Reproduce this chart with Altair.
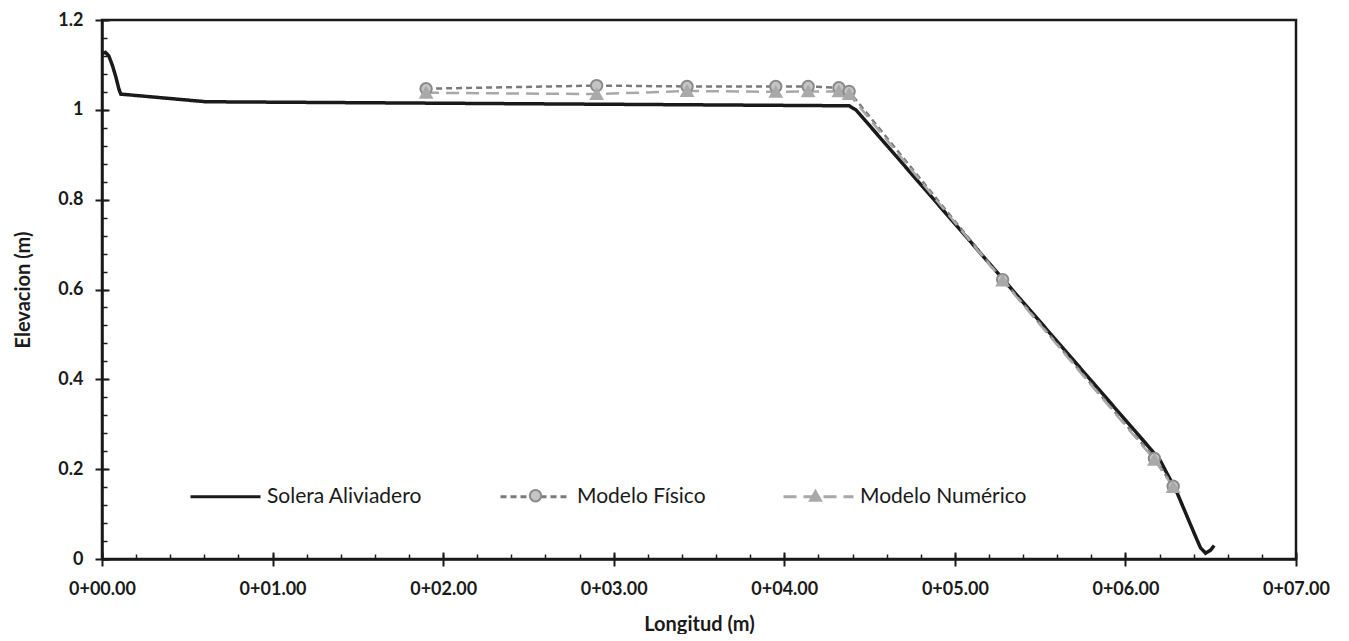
import altair as alt
import pandas as pd

# ---- data ----
solera_x = [0.00, 0.02, 0.04, 0.06, 0.08, 0.10, 0.11, 0.61, 4.38, 4.42, 6.20, 6.30, 6.40, 6.44, 6.47, 6.50, 6.52]
solera_y = [1.125, 1.128, 1.120, 1.100, 1.075, 1.045, 1.035, 1.018, 1.009, 1.000, 0.222, 0.150, 0.060, 0.025, 0.013, 0.020, 0.030]

fisico_x = [1.90, 2.90, 3.43, 3.95, 4.14, 4.32, 4.38, 5.28, 6.17, 6.28]
fisico_y = [1.047, 1.054, 1.052, 1.052, 1.052, 1.049, 1.041, 0.622, 0.224, 0.162]

numerico_x = [1.90, 2.90, 3.43, 3.95, 4.14, 4.32, 4.38, 5.28, 6.17, 6.28]
numerico_y = [1.038, 1.035, 1.042, 1.040, 1.041, 1.041, 1.035, 0.620, 0.221, 0.160]

series = ["Solera Aliviadero", "Modelo Físico", "Modelo Numérico"]
colors = ["#1a1a1a", "#7a7a7a", "#a8a8a8"]
dashes = [[1, 0], [6, 4], [13, 7]]
mk_series = ["Modelo Físico", "Modelo Numérico"]
mk_shapes = ["circle", "triangle-up"]
mk_fill = ["#c4c4c4", "#a9a9a9"]
mk_stroke = ["#8a8a8a", "#a9a9a9"]

x_major = [0, 1, 2, 3, 4, 5, 6, 7]
x_minor = [round(i * 0.2, 2) for i in range(36)]
y_major = [0, 0.2, 0.4, 0.6, 0.8, 1.0, 1.2]
y_minor = [round(i * 0.04, 2) for i in range(31)]

sol = pd.DataFrame({"x": solera_x, "y": solera_y, "serie": series[0], "o": range(len(solera_x))})
fis = pd.DataFrame({"x": fisico_x, "y": fisico_y, "serie": series[1], "o": range(len(fisico_x))})
num = pd.DataFrame({"x": numerico_x, "y": numerico_y, "serie": series[2], "o": range(len(numerico_x))})
mod = pd.concat([fis, num], ignore_index=True)

FONT = "Lato"
INK = "#1a1a1a"
xs = alt.Scale(domain=[0, 7], nice=False, zero=False)
ys = alt.Scale(domain=[0, 1.2], nice=False)
col = alt.Color("serie:N", scale=alt.Scale(domain=series, range=colors),
                legend=alt.Legend(title=None))
dash = alt.StrokeDash("serie:N", scale=alt.Scale(domain=series, range=dashes),
                      legend=alt.Legend(title=None))

main_x = alt.Axis(values=x_major, labelExpr="'0+0' + format(datum.value, '.2f')",
                  orient="bottom", tickSize=7, tickWidth=2, tickColor=INK,
                  domainColor=INK, domainWidth=2.5, grid=False, labelFlush=False,
                  labelFont=FONT, labelFontWeight="bold", labelFontSize=18, labelColor=INK,
                  labelPadding=14, title="Longitud (m)", titleFont=FONT, titleFontSize=20,
                  titleFontWeight="bold", titleColor=INK, titlePadding=16)
main_y = alt.Axis(values=y_major, labelExpr="format(datum.value, '~g')",
                  orient="left", tickSize=7, tickWidth=2, tickColor=INK,
                  domainColor=INK, domainWidth=2.5, grid=False, labelFlush=False,
                  labelFont=FONT, labelFontWeight="bold", labelFontSize=18, labelColor=INK,
                  labelPadding=12, title="Elevacion (m)", titleFont=FONT, titleFontSize=20,
                  titleFontWeight="bold", titleColor=INK, titlePadding=24)

in_x = alt.Axis(values=x_major, orient="bottom", offset=-7, tickSize=7, tickWidth=2,
                tickColor=INK, domain=False, labels=False, grid=False, title=None)
in_y = alt.Axis(values=y_major, orient="left", offset=-7, tickSize=7, tickWidth=2,
                tickColor=INK, domain=False, labels=False, grid=False, title=None)
mi_x = alt.Axis(values=x_minor, orient="bottom", offset=-5, tickSize=5, tickWidth=1.5,
                tickColor=INK, domain=False, labels=False, grid=False, title=None)
mi_y = alt.Axis(values=y_minor, orient="left", offset=-5, tickSize=5, tickWidth=1.5,
                tickColor=INK, domain=False, labels=False, grid=False, title=None)

l_sol = alt.Chart(sol).mark_line(strokeWidth=3.5).encode(
    x=alt.X("x:Q", scale=xs, axis=main_x),
    y=alt.Y("y:Q", scale=ys, axis=main_y),
    color=col, strokeDash=dash, order="o:Q",
)
l_mod = alt.Chart(mod).mark_line(strokeWidth=2.5).encode(
    x=alt.X("x:Q", scale=xs, axis=in_x),
    y=alt.Y("y:Q", scale=ys, axis=in_y),
    color=col, strokeDash=dash, order="o:Q",
)

mk_legend = alt.Legend(title=None, orient="none", legendX=423, legendY=465,
                       direction="horizontal", symbolSize=130, symbolStrokeWidth=2,
                       labelExpr="''", labelOffset=0, columnPadding=259)
p_mod = alt.Chart(mod).mark_point(size=130, strokeWidth=2, opacity=1, fillOpacity=1).encode(
    x=alt.X("x:Q", scale=xs, axis=mi_x),
    y=alt.Y("y:Q", scale=ys, axis=mi_y),
    shape=alt.Shape("serie:N", scale=alt.Scale(domain=mk_series, range=mk_shapes), legend=mk_legend),
    fill=alt.Fill("serie:N", scale=alt.Scale(domain=mk_series, range=mk_fill), legend=mk_legend),
    stroke=alt.Stroke("serie:N", scale=alt.Scale(domain=mk_series, range=mk_stroke), legend=mk_legend),
    order="o:Q",
)

chart = alt.layer(l_sol, l_mod, p_mod).resolve_scale(
    x="independent", y="independent"
).resolve_axis(
    x="independent", y="independent"
).properties(
    width=1194, height=539, background="white",
    padding={"top": 3, "left": 5, "right": 5, "bottom": 0},
).configure_view(
    stroke=INK, strokeWidth=2.5
).configure_legend(
    orient="none", legendX=87, legendY=440, direction="horizontal",
    symbolType="stroke", symbolSize=4900, symbolStrokeWidth=3,
    labelFont=FONT, labelFontSize=21, labelColor=INK, labelOffset=5,
    columnPadding=71, labelLimit=400,
)

chart.save("out.html", embed_options={"renderer": "svg", "actions": False})
